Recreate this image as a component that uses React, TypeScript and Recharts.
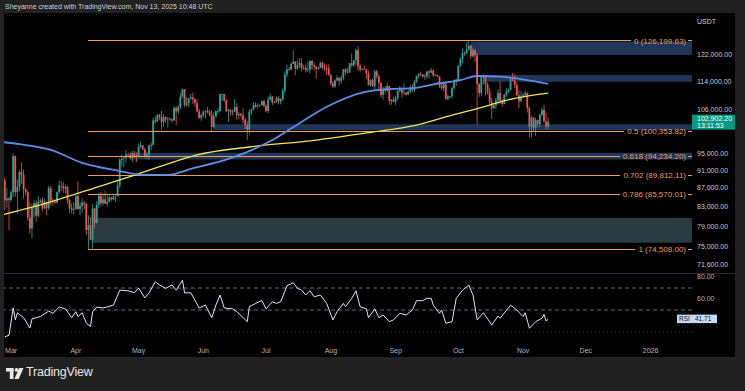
import { Bar, ComposedChart, Line, LineChart, ReferenceArea, ReferenceLine, XAxis, YAxis } from "recharts";

// daily candles as [close, high, low], thousands of USDT; open = previous close
const firstOpen = 88.7;
const feb = [[84.3, 89.3, 82.3], [84.7, 87.0, 82.7], [84.4, 85.1, 78.2]];
const mar = [
  [86.0, 86.5, 84.0], [94.3, 95.0, 85.0], [86.1, 94.4, 85.1], [87.2, 88.9, 81.5], [90.6, 91.0, 86.3],
  [89.9, 92.8, 87.8], [86.7, 91.2, 84.7], [86.1, 86.9, 85.4], [80.7, 86.5, 80.0], [78.5, 84.0, 77.5],
  [82.9, 83.6, 76.6], [83.7, 84.3, 80.7], [81.1, 84.3, 79.9], [84.0, 85.2, 80.8], [84.3, 84.7, 83.7],
  [82.6, 85.0, 82.0], [84.0, 84.7, 82.5], [82.7, 84.0, 81.2], [86.9, 87.4, 82.3], [84.2, 87.4, 83.2],
  [84.0, 84.8, 83.2], [83.8, 84.5, 83.6], [86.1, 86.2, 83.7], [87.5, 88.7, 85.6], [87.4, 88.5, 86.3],
  [86.9, 88.3, 85.9], [87.2, 87.7, 85.8], [84.4, 87.5, 83.6], [82.6, 84.6, 81.6], [82.3, 83.6, 81.6],
  [82.5, 83.9, 81.3],
];
const apr = [
  [85.2, 85.5, 82.4], [82.5, 88.5, 82.3], [83.1, 83.9, 81.2], [83.8, 84.7, 81.7], [83.5, 84.2, 82.4],
  [78.2, 83.8, 77.2], [79.2, 81.2, 74.5], [76.3, 80.8, 76.2], [82.6, 83.5, 74.6], [79.6, 82.7, 78.5],
  [83.4, 84.2, 79.5], [85.3, 85.9, 82.7], [83.7, 86.1, 83.0], [84.5, 85.8, 83.2], [83.6, 86.4, 83.6],
  [84.0, 85.4, 83.1], [84.9, 85.5, 83.9], [84.5, 85.1, 84.2], [85.1, 85.6, 84.3], [85.2, 85.3, 83.9],
  [87.5, 88.5, 85.1], [93.4, 93.8, 87.0], [93.7, 94.7, 91.9], [93.9, 94.0, 91.7], [94.7, 95.8, 92.9],
  [94.6, 95.1, 93.9], [93.8, 95.2, 93.5], [95.0, 95.6, 92.9], [94.3, 95.5, 93.8], [94.2, 95.2, 92.9],
];
const may = [
  [96.5, 97.4, 94.1], [96.9, 97.9, 96.2], [95.9, 96.9, 95.7], [94.3, 96.3, 93.8], [94.7, 95.2, 93.5],
  [96.8, 97.0, 93.4], [97.0, 97.6, 95.8], [103.2, 104.0, 96.9], [102.9, 104.3, 102.3], [104.6, 104.9, 102.8],
  [104.1, 104.9, 103.4], [102.8, 105.7, 100.8], [104.1, 104.9, 101.5], [103.5, 104.3, 102.6], [103.7, 104.1, 101.4],
  [103.5, 104.0, 103.1], [103.2, 103.7, 102.6], [106.5, 107.1, 103.1], [105.6, 107.0, 102.0], [106.8, 107.3, 104.9],
  [109.7, 110.7, 106.2], [111.7, 111.9, 109.3], [107.3, 111.8, 106.8], [107.8, 109.5, 106.9], [109.0, 109.3, 106.7],
  [109.4, 110.4, 108.8], [108.9, 110.7, 107.6], [107.8, 109.3, 106.8], [105.6, 108.9, 105.4], [103.9, 106.3, 103.6],
  [104.6, 104.9, 103.1],
];
const jun = [
  [105.6, 105.8, 103.9], [105.8, 105.9, 103.7], [105.4, 106.8, 105.0], [104.7, 106.0, 104.2], [101.5, 105.9, 100.4],
  [104.3, 105.3, 101.1], [105.6, 105.9, 103.9], [105.7, 106.4, 105.0], [110.3, 110.5, 105.4], [110.3, 110.4, 108.4],
  [108.6, 110.4, 108.1], [105.7, 108.9, 105.4], [106.0, 106.2, 102.8], [105.4, 106.2, 104.5], [105.6, 106.1, 104.5],
  [106.8, 108.9, 105.4], [104.6, 107.8, 103.4], [104.9, 105.5, 103.5], [104.6, 105.2, 103.9], [103.3, 106.5, 102.4],
  [102.1, 104.0, 101.0], [100.9, 103.1, 98.2], [105.6, 106.1, 99.6], [106.1, 106.3, 104.6], [107.3, 108.1, 105.9],
  [106.9, 108.0, 106.6], [107.1, 107.8, 106.3], [107.3, 107.6, 106.9], [108.4, 108.5, 107.2], [107.1, 108.8, 106.7],
];
const jul = [
  [105.7, 107.5, 105.3], [108.8, 109.7, 105.1], [109.6, 110.5, 108.6], [108.0, 109.8, 107.3], [108.2, 108.4, 107.8],
  [109.2, 109.7, 107.9], [108.3, 109.7, 107.5], [108.9, 109.2, 107.5], [111.3, 111.9, 108.4], [115.9, 116.8, 110.6],
  [117.5, 118.9, 115.2], [117.4, 118.2, 116.9], [119.1, 119.5, 117.3], [119.8, 123.2, 119.1], [117.7, 119.9, 115.7],
  [118.7, 120.1, 117.3], [119.3, 120.8, 117.9], [117.9, 120.9, 116.8], [117.9, 118.6, 117.3], [117.3, 118.9, 116.5],
  [117.4, 119.7, 116.6], [120.0, 120.2, 116.2], [118.7, 120.2, 117.4], [118.3, 119.4, 117.1], [117.6, 118.5, 114.7],
  [117.9, 118.3, 117.3], [119.4, 119.8, 117.8], [118.0, 119.8, 117.4], [117.9, 119.3, 116.9], [117.8, 118.8, 115.8],
  [115.8, 118.9, 115.6],
];
const aug = [
  [113.3, 116.1, 112.7], [112.5, 114.0, 112.0], [114.2, 114.7, 112.1], [115.0, 115.7, 114.0], [114.1, 115.1, 112.7],
  [115.0, 115.7, 113.3], [117.5, 117.6, 114.3], [116.7, 117.7, 115.9], [116.5, 117.9, 116.3], [119.3, 119.3, 116.5],
  [118.7, 122.3, 118.1], [120.2, 120.3, 118.2], [123.3, 123.7, 118.9], [118.4, 124.5, 117.2], [117.4, 119.2, 116.8],
  [117.5, 117.9, 117.2], [117.4, 118.6, 117.3], [116.2, 117.6, 114.7], [112.9, 117.0, 112.7], [114.3, 114.6, 112.4],
  [112.5, 114.8, 112.4], [116.9, 117.4, 111.7], [115.4, 117.4, 114.6], [113.5, 115.8, 111.0], [110.1, 113.7, 109.4],
  [111.8, 112.4, 108.8], [111.3, 112.6, 110.4], [112.6, 113.5, 110.9], [108.4, 112.7, 107.4], [108.8, 108.9, 107.4],
  [108.2, 109.5, 108.1],
];
const sep = [
  [109.2, 109.9, 107.3], [111.2, 111.8, 108.7], [111.7, 112.6, 110.8], [110.7, 112.2, 109.4], [110.7, 113.4, 110.0],
  [110.2, 111.0, 109.9], [111.1, 111.3, 110.1], [112.1, 112.9, 110.6], [111.5, 113.2, 110.8], [113.9, 114.3, 110.9],
  [115.5, 115.6, 113.5], [116.1, 116.3, 114.8], [115.9, 116.8, 115.5], [115.3, 116.1, 115.0], [115.4, 116.2, 114.4],
  [116.8, 117.0, 114.8], [116.5, 117.3, 114.8], [117.1, 117.9, 116.4], [115.7, 117.4, 115.1], [115.7, 116.1, 115.5],
  [115.3, 115.9, 115.2], [112.7, 115.4, 112.0], [112.0, 113.3, 111.5], [113.3, 114.0, 111.1], [109.0, 113.3, 108.7],
  [109.7, 110.2, 108.6], [109.7, 109.8, 109.1], [112.1, 112.3, 109.2], [114.4, 114.4, 111.6], [114.1, 114.8, 112.7],
];
const oct = [
  [118.6, 118.7, 113.9], [120.6, 121.0, 118.2], [122.3, 123.9, 119.3], [122.4, 122.9, 121.5], [123.5, 125.7, 122.1],
  [124.7, 126.2, 123.1], [121.4, 125.0, 120.6], [123.3, 124.1, 121.1], [121.7, 123.7, 119.6], [113.2, 122.5, 102.0],
  [110.6, 113.4, 109.6], [115.2, 115.7, 109.7], [115.3, 116.0, 113.0], [113.1, 115.4, 110.0], [110.8, 113.6, 110.2],
  [108.2, 111.9, 107.5], [106.4, 109.2, 103.6], [107.2, 107.5, 106.4], [108.6, 109.4, 106.2], [110.6, 111.7, 107.5],
  [108.5, 114.0, 107.5], [107.6, 109.0, 106.9], [110.1, 110.4, 107.5], [111.0, 112.0, 109.6], [111.6, 111.9, 110.6],
  [114.5, 115.0, 111.4], [114.1, 116.4, 113.9], [112.9, 116.0, 112.0], [110.0, 113.6, 109.9], [108.3, 111.5, 106.4],
  [109.6, 111.2, 108.4],
];
const nov = [
  [110.1, 110.6, 109.4], [110.6, 111.2, 109.6], [106.5, 110.8, 105.3], [101.5, 107.0, 98.9], [103.9, 104.5, 98.9],
  [101.3, 104.1, 100.3], [103.3, 104.0, 99.3], [102.3, 103.4, 101.5], [104.7, 105.0, 101.4], [106.0, 106.6, 104.3],
  [103.0, 107.4, 102.5], [101.6, 105.3, 100.9], [102.9022, 104.0, 100.9],
];
const firstDay = -3; // Feb 26, day 0 = Mar 1

// moving averages, [day, price]
const sma100 = [
  [-4, 97.7], [4, 97.2], [19, 95.8], [34, 92.7], [51, 90.9], [63, 89.9], [75, 89.9], [86, 91.3], [105, 93.8],
  [125, 98.2], [138, 102.5], [152, 107.1], [170, 111.0], [180, 111.7], [192, 112.0], [205, 113.4], [215, 114.3],
  [223, 115.5], [234, 115.3], [257, 113.2],
];
const sma200 = [
  [-4, 81.3], [19, 84.0], [42, 87.3], [58, 89.7], [71, 91.8], [89, 94.6], [114, 96.5], [146, 98.2], [170, 100.0],
  [194, 102.0], [211, 104.6], [229, 107.3], [234, 108.2], [257, 110.6],
];

// RSI(14), [day, value]
const rsi = [
  [-3, 25.7], [-1, 27], [1, 52], [2, 41], [3, 47.5], [6, 43], [9, 33.6], [10, 42], [14, 44], [18, 49], [20, 47],
  [23, 52.7], [26, 51], [29, 43], [31, 48.5], [32, 44], [34, 47.5], [36, 38], [38, 35], [39, 48.5], [41, 52.7],
  [44, 51.8], [49, 54.5], [52, 68], [56, 67.5], [59, 65.7], [61, 70], [64, 61], [66, 65.5], [69, 75.7], [71, 72.7],
  [74, 69.7], [77, 72.7], [79, 68], [82, 77], [83, 65.5], [86, 65.7], [90, 51.8], [93, 54.5], [96, 43], [98, 54.5],
  [100, 63.6], [102, 51.8], [106, 51], [108, 48.5], [113, 39.4], [114, 53], [117, 56], [120, 58.5], [122, 51],
  [125, 57.5], [127, 56], [129, 57.5], [132, 72], [135, 74.8], [137, 69.7], [139, 68], [141, 63.6], [143, 67.5],
  [145, 62], [148, 63.6], [151, 56], [154, 41], [156, 48.5], [159, 56], [160, 53], [163, 60.6], [165, 67.5],
  [167, 53], [170, 51], [171, 43], [174, 51], [176, 43], [178, 45.5], [181, 39.4], [183, 41], [186, 47], [189, 45.5],
  [192, 50], [194, 58.5], [197, 58.5], [199, 60.6], [201, 60.6], [202, 54.5], [205, 47], [206, 50], [208, 38],
  [211, 39.4], [213, 60.6], [216, 68], [219, 72.7], [221, 63.6], [223, 41], [226, 47.5], [230, 36.4], [233, 44.5],
  [234, 42.5], [239, 54.5], [242, 50], [245, 44], [246, 47.5], [248, 33.4], [251, 39.4], [254, 42.5], [255, 46],
  [256, 40], [257, 41.71],
];

const monthDays = [0, 31, 61, 92, 122, 153, 184, 214, 245, 275, 306];
const monthLabels = ["Mar", "Apr", "May", "Jun", "Jul", "Aug", "Sep", "Oct", "Nov", "Dec", "2026"];
const priceTicks = [122000, 114000, 106000, 95000, 91000, 87000, 83000, 79000, 75000, 71600];
const rsiTicks = [80, 60];

const fibRatios = ["0", "0.5", "0.618", "0.702", "0.786", "1"];
const fibPrices = [126199.63, 100353.82, 94234.2, 89812.11, 85570.01, 74508.0];
const fibStartDay = 37;

// supply / demand zones: [start day, low, high]
const navyZones = [[220, 121800, 126000], [226, 113800, 115800], [97, 100700, 102200], [57, 93500, 95100]];
const slateZones = [[39, 75700, 80600]];

const X_MIN = -3.4;
const X_MAX = 325.8;
const UP = "#26a69a";
const DOWN = "#ef5350";
const FIB = "#eb9d5e";
const FONT = "'Liberation Sans', Arial, sans-serif";

let prev = firstOpen;
const candles = [feb, mar, apr, may, jun, jul, aug, sep, oct, nov].flat().map(([close, high, low], i) => {
  const row = { day: firstDay + i, open: prev, close, high, low, range: [low * 1000, high * 1000] };
  prev = close;
  return row;
});
const fastLine = sma100.map(([day, p]) => ({ day, p: p * 1000 }));
const slowLine = sma200.map(([day, p]) => ({ day, p: p * 1000 }));
const rsiLine = rsi.map(([day, v]) => ({ day, v }));
const last = candles[candles.length - 1];

const fmt = (v: number) => v.toLocaleString("en-US", { minimumFractionDigits: 2, maximumFractionDigits: 2 });

function textWidth(s: string, size: number) {
  let w = 0;
  for (const ch of s) w += /[0-9]/.test(ch) ? 0.556 : /[()]/.test(ch) ? 0.333 : 0.278;
  return w * size;
}

function Candle(props: any) {
  const { x, y, width, height, payload } = props;
  if (x == null || !payload) return null;
  const top = Math.min(y, y + height);
  const bottom = Math.max(y, y + height);
  const span = Math.log(payload.high) - Math.log(payload.low) || 1;
  const yOf = (p: number) => top + ((bottom - top) * (Math.log(payload.high) - Math.log(p))) / span;
  const color = payload.close >= payload.open ? UP : DOWN;
  const cx = x + width / 2;
  const b1 = yOf(Math.max(payload.open, payload.close));
  const b2 = yOf(Math.min(payload.open, payload.close));
  return (
    <g>
      <rect x={cx - 0.4} y={top} width={0.8} height={Math.max(bottom - top, 0.5)} fill={color} />
      <rect x={cx - 0.9} y={b1} width={1.8} height={Math.max(b2 - b1, 0.7)} fill={color} />
    </g>
  );
}

function fibTag(text: string) {
  return (props: any) => {
    const vb = props.viewBox;
    if (!vb) return null;
    const right = vb.x + vb.width;
    const textRight = right - 6;
    const start = textRight - textWidth(text, 8) - 3;
    return (
      <g>
        <line x1={vb.x} x2={start} y1={vb.y} y2={vb.y} stroke={FIB} strokeWidth={1} shapeRendering="crispEdges" />
        <text x={textRight} y={vb.y} dy={2.8} textAnchor="end" fill={FIB} fontSize={8} fontFamily={FONT}>{text}</text>
        <line x1={textRight + 2} x2={right} y1={vb.y} y2={vb.y} stroke={FIB} strokeWidth={1} shapeRendering="crispEdges" />
      </g>
    );
  };
}

function PriceTag(props: any) {
  const vb = props.viewBox;
  if (!vb) return null;
  const x = vb.x + vb.width;
  return (
    <g fontFamily={FONT} fontSize={7} fill="#ffffff">
      <rect x={x} y={vb.y - 7} width={44} height={15} fill="#089981" />
      <text x={x + 5} y={vb.y - 1}>{fmt(last.close * 1000)}</text>
      <text x={x + 5} y={vb.y + 6}>13:11:53</text>
    </g>
  );
}

function RsiTag(props: any) {
  const vb = props.viewBox;
  if (!vb) return null;
  const x = vb.x + vb.width - 15;
  return (
    <g fontFamily={FONT} fontSize={6.5} fill="#131722">
      <rect x={x} y={vb.y - 4.5} width={40} height={8.5} fill="#c6daf6" />
      <text x={x + 2} y={vb.y + 2}>RSI</text>
      <text x={x + 18} y={vb.y + 2}>{rsi[rsi.length - 1][1].toFixed(2)}</text>
    </g>
  );
}

function Logo() {
  return (
    <svg width={18} height={12} style={{ position: "absolute", left: 6, top: 368 }}>
      <rect x={0} y={0} width={7.5} height={3.5} fill="#e8e8e8" />
      <rect x={3.8} y={0} width={3.7} height={11} fill="#e8e8e8" />
      <circle cx={10.6} cy={1.9} r={1.9} fill="#e8e8e8" />
      <polygon points="13.2,0 17.6,0 12.6,11 8.4,11" fill="#e8e8e8" />
    </svg>
  );
}

export default function App() {
  const tick = { fill: "#c9ccd4", fontSize: 7, fontFamily: FONT };
  return (
    <div style={{ position: "absolute", left: 0, top: 0, width: 745, height: 391, background: "#212121", overflow: "hidden", fontFamily: FONT }}>
      <div style={{ position: "absolute", left: 5, top: 3, fontSize: 7, color: "#d0d0d0", whiteSpace: "nowrap" }}>
        Sheyanne created with TradingView.com, Nov 13, 2025 10:48 UTC
      </div>
      <div style={{ position: "absolute", left: 4, top: 13, width: 731, height: 344, background: "#000000" }} />
      <div style={{ position: "absolute", left: 697, top: 18, fontSize: 7, color: "#d1d4dc" }}>USDT</div>

      <div style={{ position: "absolute", left: 4, top: 13 }}>
        <ComposedChart width={731} height={260} data={candles} margin={{ top: 0, right: 0, bottom: 0, left: 0 }}>
          <XAxis type="number" dataKey="day" domain={[X_MIN, X_MAX]} allowDataOverflow hide />
          <YAxis
            orientation="right"
            width={43}
            scale="log"
            domain={[70140, 135470]}
            allowDataOverflow
            ticks={priceTicks}
            tickFormatter={fmt}
            tick={tick}
            tickLine={false}
            axisLine={false}
            tickSize={0}
            tickMargin={5}
            interval={0}
          />
          {navyZones.map(([from, lo, hi], i) => (
            <ReferenceArea key={`n${i}`} x1={from} x2={X_MAX} y1={lo} y2={hi} fill="#1f3656" fillOpacity={1} stroke="none" />
          ))}
          {slateZones.map(([from, lo, hi], i) => (
            <ReferenceArea key={`s${i}`} x1={from} x2={X_MAX} y1={lo} y2={hi} fill="#293a40" fillOpacity={1} stroke="none" />
          ))}
          {fibPrices.map((p, i) => (
            <ReferenceLine
              key={`f${i}`}
              segment={[{ x: fibStartDay, y: p }, { x: X_MAX, y: p }]}
              stroke="none"
              label={fibTag(`${fibRatios[i]} (${fmt(p)})`)}
            />
          ))}
          <Bar dataKey="range" barSize={2} shape={Candle} isAnimationActive={false} />
          <Line data={slowLine} dataKey="p" type="monotone" stroke="#ece65a" strokeWidth={1.3} dot={false} isAnimationActive={false} />
          <Line data={fastLine} dataKey="p" type="monotone" stroke="#5b8ee6" strokeWidth={1.8} dot={false} isAnimationActive={false} />
          <ReferenceLine y={last.close * 1000} stroke="none" label={PriceTag} />
        </ComposedChart>
      </div>

      <div style={{ position: "absolute", left: 4, top: 272.5, width: 731, height: 1, background: "#2a2e39" }} />

      <div style={{ position: "absolute", left: 4, top: 273 }}>
        <LineChart width={731} height={84} data={rsiLine} margin={{ top: 1, right: 0, bottom: 0, left: 0 }}>
          <XAxis
            type="number"
            dataKey="day"
            domain={[X_MIN, X_MAX]}
            allowDataOverflow
            ticks={monthDays}
            interval={0}
            tickFormatter={(d: number) => monthLabels[monthDays.indexOf(d)]}
            tick={{ fill: "#b2b5be", fontSize: 7, fontFamily: FONT }}
            tickLine={false}
            axisLine={false}
            tickSize={0}
            tickMargin={6}
            height={15}
          />
          <YAxis
            orientation="right"
            width={43}
            domain={[20.91, 82.73]}
            allowDataOverflow
            ticks={rsiTicks}
            tickFormatter={(v: number) => v.toFixed(2)}
            tick={{ fill: "#b2b5be", fontSize: 7, fontFamily: FONT }}
            tickLine={false}
            axisLine={false}
            tickSize={0}
            tickMargin={5}
          />
          <ReferenceLine y={70} stroke="#6a6d78" strokeDasharray="4 3" />
          <ReferenceLine y={50} stroke="#6a6d78" strokeDasharray="4 3" />
          <ReferenceLine y={30} stroke="#3c3f48" strokeDasharray="1 3" />
          <Line dataKey="v" type="linear" stroke="#dfe6f2" strokeWidth={1} dot={false} isAnimationActive={false} />
          <ReferenceLine y={rsi[rsi.length - 1][1]} stroke="none" label={RsiTag} />
        </LineChart>
      </div>

      <Logo />
      <div style={{ position: "absolute", left: 26, top: 365, fontSize: 12.5, color: "#e8e8e8", letterSpacing: -0.2 }}>TradingView</div>
    </div>
  );
}
